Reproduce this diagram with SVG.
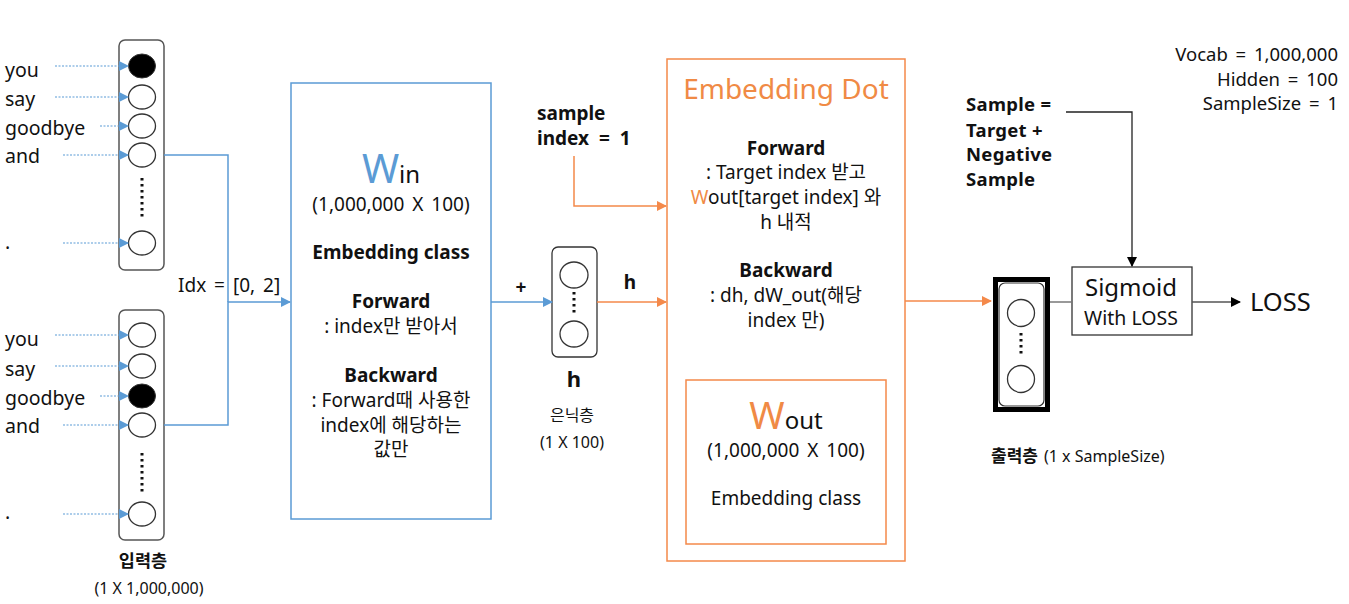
<svg xmlns="http://www.w3.org/2000/svg" width="1349" height="604" viewBox="0 0 1349 604">
<defs>
<marker id="ab" viewBox="0 0 10 10" refX="9" refY="5" markerWidth="10" markerHeight="10" markerUnits="userSpaceOnUse" orient="auto"><path d="M0,0 L10,5 L0,10 z" fill="#5B9BD5"/></marker>
<marker id="ao" viewBox="0 0 10 10" refX="9" refY="5" markerWidth="10" markerHeight="10" markerUnits="userSpaceOnUse" orient="auto"><path d="M0,0 L10,5 L0,10 z" fill="#F4894A"/></marker>
<marker id="ak" viewBox="0 0 10 10" refX="9" refY="5" markerWidth="10" markerHeight="10" markerUnits="userSpaceOnUse" orient="auto"><path d="M0,0 L10,5 L0,10 z" fill="#000"/></marker>
</defs>
<style>
text{font-family:"Noto Sans","Noto Sans CJK KR",sans-serif;fill:#111;}
.w{font-size:19.5px;}
.c{text-anchor:middle;}
.b{font-weight:bold;}
.m{font-size:19px;}
.s{font-size:16px;}
.node{fill:#fff;stroke:#333;stroke-width:1.3;}
.dot{fill:none;stroke:#111;stroke-width:3;stroke-dasharray:2.5,3.5;}
.dash{fill:none;stroke:#5B9BD5;stroke-width:1.2;stroke-dasharray:2,1.5;}
.bl{fill:none;stroke:#5B9BD5;stroke-width:1.5;}
.or{fill:none;stroke:#F4894A;stroke-width:1.5;}
.p{font-size:18.5px;word-spacing:3px;text-anchor:end;}
.sl{font-size:18.5px;font-weight:bold;letter-spacing:0.3px;}
</style>
<rect width="1349" height="604" fill="#fff"/>

<g id="input-top">
<rect x="119" y="40" width="45" height="230" rx="6" fill="#fff" stroke="#555" stroke-width="1.5"/>
<ellipse cx="142" cy="66" rx="13.5" ry="12" fill="#000" stroke="#333"/>
<ellipse class="node" cx="142" cy="97" rx="13.5" ry="12"/>
<ellipse class="node" cx="142" cy="126" rx="13.5" ry="12"/>
<ellipse class="node" cx="142" cy="155" rx="13.5" ry="12"/>
<line class="dot" x1="142" y1="178" x2="142" y2="220"/>
<ellipse class="node" cx="142" cy="243" rx="13.5" ry="12"/>
<text class="w" x="5" y="77">you</text>
<text class="w" x="5" y="106">say</text>
<text class="w" x="5" y="135">goodbye</text>
<text class="w" x="5" y="163">and</text>
<text class="w" x="5" y="249">.</text>
</g>

<g id="input-bottom">
<rect x="119" y="310" width="45" height="230" rx="6" fill="#fff" stroke="#555" stroke-width="1.5"/>
<ellipse class="node" cx="142" cy="335" rx="13.5" ry="12"/>
<ellipse class="node" cx="142" cy="366" rx="13.5" ry="12"/>
<ellipse cx="142" cy="396" rx="13.5" ry="12" fill="#000" stroke="#333"/>
<ellipse class="node" cx="142" cy="425" rx="13.5" ry="12"/>
<line class="dot" x1="142" y1="453" x2="142" y2="494"/>
<ellipse class="node" cx="142" cy="514" rx="13.5" ry="12"/>
<text class="w" x="5" y="346">you</text>
<text class="w" x="5" y="376">say</text>
<text class="w" x="5" y="405">goodbye</text>
<text class="w" x="5" y="433">and</text>
<text class="w" x="5" y="519">.</text>
<text class="c b" x="143" y="567" font-size="17.5">입력층</text>
<text class="c s" x="149" y="594">(1 X 1,000,000)</text>
</g>

<g id="idx-label">
<text x="178" y="292" font-size="19" word-spacing="3">Idx = [0, 2]</text>
</g>

<g id="win">
<rect x="291" y="83" width="200" height="436" fill="#fff" stroke="#5B9BD5" stroke-width="1.5"/>
<text class="c" x="391" y="183"><tspan font-size="40" style="fill:#5B9BD5">W</tspan><tspan font-size="24">in</tspan></text>
<text class="c m" x="391" y="211" word-spacing="3">(1,000,000  X 100)</text>
<text class="c b m" x="391" y="259">Embedding class</text>
<text class="c b m" x="391" y="308">Forward</text>
<text class="c m" x="391" y="333">: index만 받아서</text>
<text class="c b m" x="391" y="382">Backward</text>
<text class="c m" x="391" y="407">: Forward때 사용한</text>
<text class="c m" x="391" y="432">index에 해당하는</text>
<text class="c m" x="391" y="456">값만</text>
<text class="c b m" x="521" y="294">+</text>
</g>

<g id="hidden">
<rect x="552" y="247" width="45" height="110" rx="6" fill="#fff" stroke="#333" stroke-width="1.3"/>
<ellipse class="node" cx="574" cy="275" rx="14" ry="13"/>
<line class="dot" x1="574" y1="292" x2="574" y2="315"/>
<ellipse class="node" cx="574" cy="334" rx="14" ry="13"/>
<text class="c b" x="574" y="387" font-size="22">h</text>
<text class="c" x="572" y="421" font-size="16">은닉층</text>
<text class="c s" x="572" y="448">(1 X 100)</text>
<text class="c b m" x="630" y="289">h</text>
</g>

<g id="sample-index">
<text class="b m" x="537" y="120">sample</text>
<text class="b m" x="537" y="145" word-spacing="5">index = 1</text>
</g>

<g id="embedding-dot">
<rect x="667" y="59" width="238" height="502" fill="#fff" stroke="#F4894A" stroke-width="1.5"/>
<text class="c" x="786" y="99" font-size="28" style="fill:#F08A45">Embedding Dot</text>
<text class="c b m" x="786" y="155">Forward</text>
<text class="c m" x="786" y="179">: Target index 받고</text>
<text class="c m" x="786" y="204"><tspan style="fill:#F08A45">W</tspan>out[target index] 와</text>
<text class="c m" x="786" y="229">h 내적</text>
<text class="c b m" x="786" y="277">Backward</text>
<text class="c m" x="786" y="302">: dh, dW_out(해당</text>
<text class="c m" x="786" y="327">index 만)</text>
<rect x="686" y="380" width="200" height="164" fill="#fff" stroke="#F4894A" stroke-width="1.5"/>
<text class="c" x="786" y="429"><tspan font-size="38" style="fill:#F08A45">W</tspan><tspan font-size="24">out</tspan></text>
<text class="c m" x="786" y="457" word-spacing="3">(1,000,000  X 100)</text>
<text class="c m" x="786" y="505">Embedding class</text>
</g>

<g id="output">
<rect x="995.5" y="279.5" width="52" height="130" fill="#fff" stroke="#000" stroke-width="5"/>
<rect x="999" y="283" width="45" height="123" rx="6" fill="#fff" stroke="#333" stroke-width="1.2"/>
<ellipse class="node" cx="1021" cy="313" rx="13.5" ry="13.5"/>
<line class="dot" x1="1021" y1="333" x2="1021" y2="355"/>
<ellipse class="node" cx="1021" cy="379" rx="13.5" ry="13.5"/>
<text x="991" y="462"><tspan font-size="17" font-weight="bold">출력층</tspan><tspan font-size="16" dx="6">(1 x SampleSize)</tspan></text>
</g>

<g id="sigmoid">
<rect x="1072" y="267" width="120" height="68" fill="#fff" stroke="#333" stroke-width="1.3"/>
<text class="c" x="1131" y="296" font-size="24">Sigmoid</text>
<text class="c" x="1131" y="325" font-size="19.5">With LOSS</text>
</g>

<g id="loss">
<text x="1250" y="311" font-size="25.5">LOSS</text>
</g>

<g id="sample-label">
<text class="sl" x="966" y="111">Sample =</text>
<text class="sl" x="966" y="137">Target +</text>
<text class="sl" x="966" y="161">Negative</text>
<text class="sl" x="966" y="186">Sample</text>
</g>

<g id="params">
<text class="p" x="1338" y="61">Vocab = 1,000,000</text>
<text class="p" x="1338" y="86">Hidden = 100</text>
<text class="p" x="1338" y="110">SampleSize = 1</text>
</g>

<g id="connectors">
<line class="dash" x1="55" y1="66" x2="128" y2="66" marker-end="url(#ab)"/>
<line class="dash" x1="55" y1="97" x2="128" y2="97" marker-end="url(#ab)"/>
<line class="dash" x1="100" y1="126" x2="128" y2="126" marker-end="url(#ab)"/>
<line class="dash" x1="63" y1="155" x2="128" y2="155" marker-end="url(#ab)"/>
<line class="dash" x1="63" y1="243" x2="128" y2="243" marker-end="url(#ab)"/>
<line class="dash" x1="55" y1="335" x2="128" y2="335" marker-end="url(#ab)"/>
<line class="dash" x1="55" y1="366" x2="128" y2="366" marker-end="url(#ab)"/>
<line class="dash" x1="100" y1="396" x2="128" y2="396" marker-end="url(#ab)"/>
<line class="dash" x1="63" y1="425" x2="128" y2="425" marker-end="url(#ab)"/>
<line class="dash" x1="63" y1="514" x2="128" y2="514" marker-end="url(#ab)"/>
<polyline class="bl" points="164,155 228,155 228,302"/>
<polyline class="bl" points="164,425 228,425 228,302 290,302" marker-end="url(#ab)"/>
<line class="bl" x1="491" y1="302" x2="552" y2="302" marker-end="url(#ab)"/>
<line class="or" x1="597" y1="302" x2="666" y2="302" marker-end="url(#ao)"/>
<polyline class="or" points="574,156 574,206 666,206" marker-end="url(#ao)"/>
<line class="or" x1="905" y1="301" x2="991" y2="301" marker-end="url(#ao)"/>
<line x1="1050" y1="302" x2="1072" y2="302" stroke="#777" stroke-width="1.5"/>
<line x1="1192" y1="302" x2="1240" y2="302" stroke="#555" stroke-width="1.5" marker-end="url(#ak)"/>
<polyline points="1066,112 1132,112 1132,266" fill="none" stroke="#222" stroke-width="1.3" marker-end="url(#ak)"/>
</g>
</svg>
